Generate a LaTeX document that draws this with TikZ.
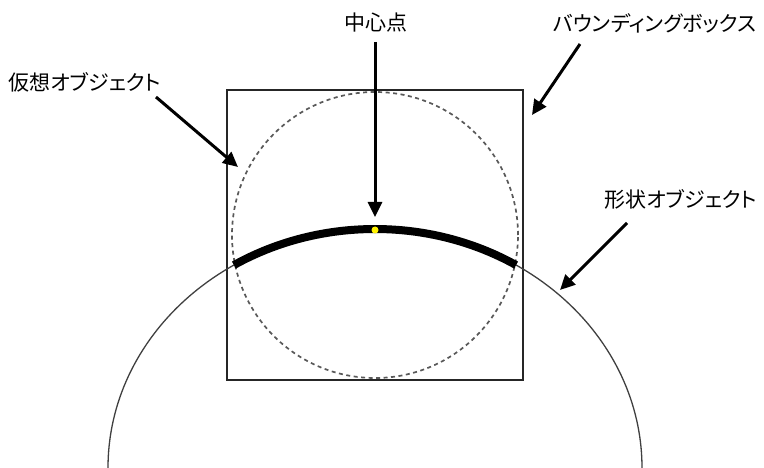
\documentclass[tikz,border=0pt]{standalone}
\usepackage{fontspec}
\setmainfont{Noto Sans CJK JP}[RawFeature=+palt]
\usetikzlibrary{arrows.meta}
\begin{document}
\begin{tikzpicture}[x=1pt,y=-1pt,
  lbl/.style={inner sep=0pt,font=\fontsize{21}{23}\selectfont},
  pointer/.style={line width=3pt,-{Triangle[length=15pt,width=14pt]}},
  bbox/.style={draw=black!85,line width=1.8pt},
  virt/.style={draw=black!65,line width=1.7pt,dash pattern=on 4pt off 3.5pt},
  shapeline/.style={draw=black!75,line width=1.3pt},
  thickarc/.style={draw=black,line width=8pt}]
\useasboundingbox[fill=white] (0,0) rectangle (764,468);
% bounding box
\draw[bbox] (227,90) rectangle (523,380);
% virtual object
\draw[virt] (375,235) ellipse [x radius=143pt, y radius=143pt];
% shape object (large arc)
\draw[shapeline] (108,468) arc [start angle=180, end angle=0, x radius=267pt, y radius=239pt];
\draw[thickarc] (375,468) ++(121.9:267pt and 239pt) arc [start angle=121.9, end angle=58.1, x radius=267pt, y radius=239pt];
% center point
\fill[yellow] (375,230) circle [radius=3.5pt];
% labels
\node[lbl] (center) at (376,23) {中心点};
\node[lbl] (virtual) at (85,82) {仮想オブジェクト};
\node[lbl] (bound) at (655,23) {バウンディングボックス};
\node[lbl] (shape) at (681,199) {形状オブジェクト};
% arrow endpoints
\coordinate (c1) at (375,42);
\coordinate (c2) at (375,217);
\coordinate (v1) at (156,97);
\coordinate (v2) at (238,167);
\coordinate (b1) at (580,44);
\coordinate (b2) at (532,115);
\coordinate (s1) at (627,223);
\coordinate (s2) at (560,290);
\draw[pointer] (c1) -- (c2);
\draw[pointer] (v1) -- (v2);
\draw[pointer] (b1) -- (b2);
\draw[pointer] (s1) -- (s2);
\end{tikzpicture}
\end{document}
